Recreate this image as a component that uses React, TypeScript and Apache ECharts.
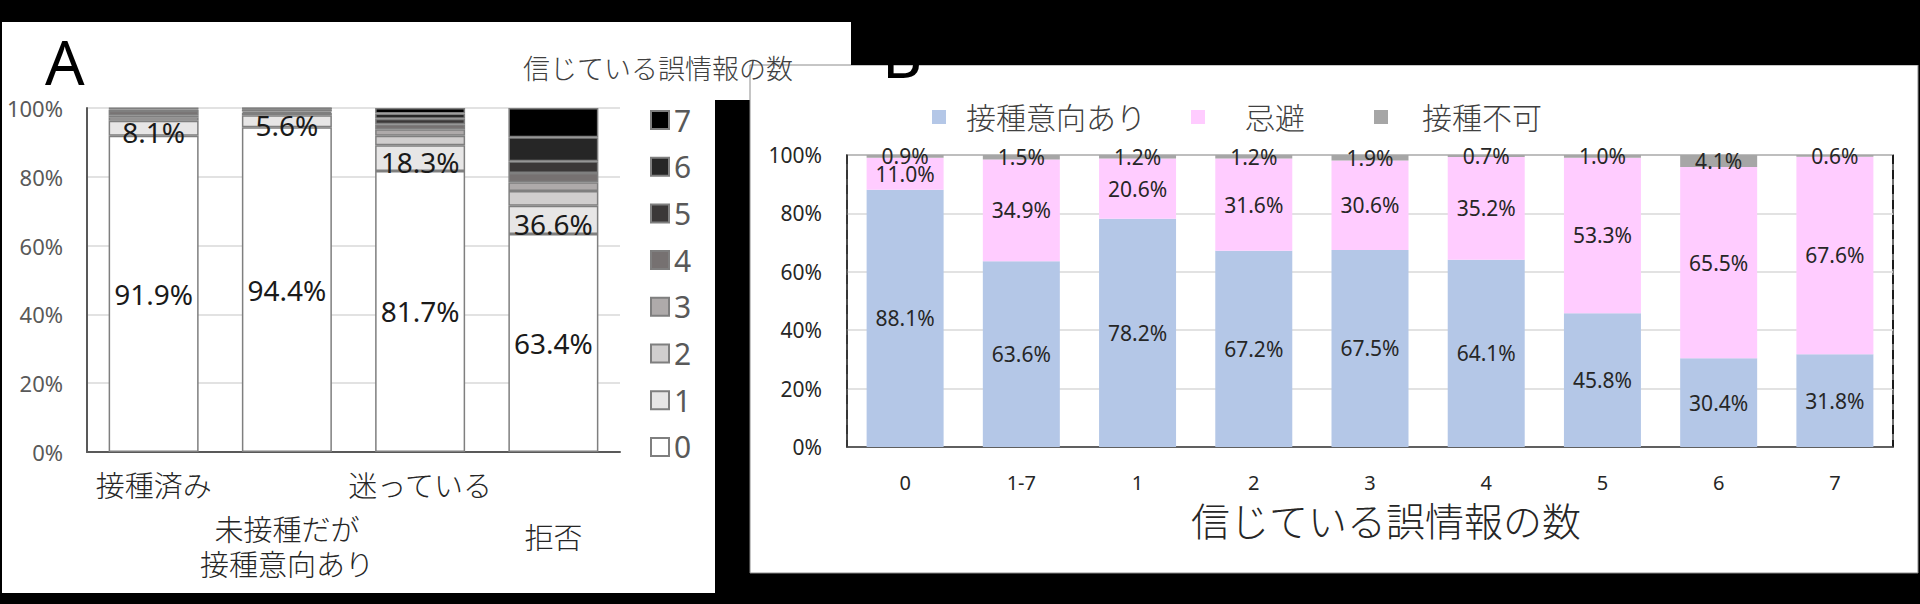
import React, { useEffect, useRef } from "react";
import * as echarts from "echarts";

// ---------- Panel A data ----------
const catsA = ["接種済み", "未接種だが\n接種意向あり", "迷っている", "拒否"];
const levelNames = ["0", "1", "2", "3", "4", "5", "6", "7"];
const belief0 = [91.9, 94.4, 81.7, 63.4];
const belief1 = [4.4, 3.5, 7.5, 8.2];
const belief2 = [1.0, 0.7, 2.7, 4.3];
const belief3 = [0.6, 0.4, 1.9, 2.5];
const belief4 = [1.2, 0.6, 1.5, 2.7];
const belief5 = [0.5, 0.2, 1.6, 3.4];
const belief6 = [0.3, 0.1, 1.5, 7.0];
const belief7 = [0.1, 0.1, 1.6, 8.5];
const levelColors = ["#ffffff", "#e7e6e6", "#d0cece", "#aeaaaa", "#767171", "#3b3838", "#262626", "#000000"];
const yTicksA = [0, 20, 40, 60, 80, 100];

// ---------- Panel B data ----------
const catsB = ["0", "1-7", "1", "2", "3", "4", "5", "6", "7"];
const willing = [88.1, 63.6, 78.2, 67.2, 67.5, 64.1, 45.8, 30.4, 31.8];
const hesitant = [11.0, 34.9, 20.6, 31.6, 30.6, 35.2, 53.3, 65.5, 67.6];
const unable = [0.9, 1.5, 1.2, 1.2, 1.9, 0.7, 1.0, 4.1, 0.6];
const seriesNamesB = ["接種意向あり", "忌避", "接種不可"];
const colorsB = ["#b4c7e7", "#ffccff", "#a6a6a6"];

const FONT = "'Noto Sans', 'Noto Sans CJK JP', sans-serif";
const CJK_WEIGHT = 300;

export default function App() {
  const ref = useRef<HTMLDivElement>(null);
  useEffect(() => {
    if (!ref.current) return;
    const chart = echarts.init(ref.current, undefined, { renderer: "svg" });
    const levels = [belief0, belief1, belief2, belief3, belief4, belief5, belief6, belief7];

    const seriesA = levels.map((arr, k) => ({
      name: levelNames[k],
      type: "bar",
      stack: "a",
      xAxisIndex: 0,
      yAxisIndex: 0,
      barWidth: 90,
      data: arr,
      itemStyle: { color: levelColors[k], borderColor: "#7f7f7f", borderWidth: 1.5 },
      label:
        k === 0
          ? { show: true, position: "inside", fontSize: 28, color: "#1a1a1a", fontFamily: FONT, formatter: (p: any) => p.value.toFixed(1) + "%" }
          : k === 1
          ? { show: true, position: "inside", offset: [0, 4], fontSize: 28, color: "#1a1a1a", fontFamily: FONT, formatter: (p: any) => (100 - belief0[p.dataIndex]).toFixed(1) + "%" }
          : { show: false },
    }));

    const dataB = [willing, hesitant, unable];
    const seriesB = dataB.map((arr, k) => ({
      name: seriesNamesB[k],
      type: "bar",
      stack: "b",
      xAxisIndex: 1,
      yAxisIndex: 1,
      barWidth: 77,
      data: arr,
      itemStyle: { color: colorsB[k] },
      label: { show: true, position: "inside", fontSize: 21, color: "#262626", fontFamily: FONT, formatter: (p: any) => p.value.toFixed(1) + "%" },
    }));

    const legendB = seriesNamesB.map((n, k) => ({
      data: [n],
      left: [927, 1186, 1369][k],
      top: 97,
      itemWidth: 14,
      itemHeight: 14,
      icon: "rect",
      selectedMode: false,
      textStyle: { fontSize: 30, lineHeight: 30, fontWeight: CJK_WEIGHT, color: "#404040", fontFamily: FONT, padding: [0, 0, 0, [15, 35, 29][k]] },
    }));

    const option: any = {
      animation: false,
      backgroundColor: "#000000",
      textStyle: { fontFamily: FONT },
      graphic: [
        { type: "rect", z: -100, shape: { x: 2, y: 22, width: 713, height: 571 }, style: { fill: "#ffffff" } },
        { type: "rect", z: -100, shape: { x: 2, y: 22, width: 849, height: 78 }, style: { fill: "#ffffff" } },
        { type: "rect", z: -100, shape: { x: 750, y: 65, width: 1168, height: 508 }, style: { fill: "#ffffff", stroke: "#8c8c8c", lineWidth: 1 } },
        { type: "text", z: 50, x: 45, y: 61, style: { text: "A", fontSize: 62, fontFamily: FONT, fill: "#000", verticalAlign: "middle" } },
        { type: "text", z: 50, x: 882, y: 54, style: { text: "B", fontSize: 62, fontFamily: FONT, fill: "#000", verticalAlign: "middle" } },
        { type: "rect", z: 100, shape: { x: 851, y: 0, width: 1069, height: 65 }, style: { fill: "#000000" } },
        { type: "rect", z: 100, shape: { x: 0, y: 0, width: 1920, height: 22 }, style: { fill: "#000000" } },
        { type: "text", z: 50, x: 523, y: 68, style: { text: "信じている誤情報の数", fontSize: 27, fontWeight: CJK_WEIGHT, fontFamily: FONT, fill: "#404040", verticalAlign: "middle" } },
        { type: "text", z: 50, x: 1386, y: 520, style: { text: "信じている誤情報の数", fontSize: 39, fontWeight: CJK_WEIGHT, fontFamily: FONT, fill: "#262626", align: "center", verticalAlign: "middle" } },
      ],
      legend: [
        {
          data: [...levelNames].reverse(),
          orient: "vertical",
          left: 645,
          top: 100,
          itemWidth: 18,
          itemHeight: 18,
          itemGap: 16.7,
          icon: "rect",
          selectedMode: false,
          textStyle: { fontSize: 30, lineHeight: 30, color: "#595959", fontFamily: FONT },
        },
        ...legendB,
      ],
      grid: [
        { left: 87, right: 1300, top: 108, bottom: 152 },
        { left: 847, right: 27, top: 155, bottom: 157, show: true, borderColor: "#404040", borderWidth: 1.5, backgroundColor: "transparent" },
      ],
      xAxis: [
        {
          type: "category",
          gridIndex: 0,
          data: catsA,
          axisTick: { show: false },
          axisLine: { lineStyle: { color: "#595959", width: 2 } },
          axisLabel: {
            interval: 0,
            margin: 16,
            color: "#262626",
            fontFamily: FONT,
            fontSize: 29,
            formatter: (v: string, i: number) => {
              const lines = v.split("\n").map((l) => `{t|${l}}`).join("\n");
              if (i % 2 === 0) return lines;
              return (v.includes("\n") ? "{g| }\n" : "{h| }\n") + lines;
            },
            rich: {
              t: { fontSize: 29, lineHeight: 35, fontWeight: CJK_WEIGHT, color: "#262626", fontFamily: FONT },
              g: { fontSize: 10, lineHeight: 44 },
              h: { fontSize: 10, lineHeight: 52 },
            },
          },
        },
        {
          type: "category",
          gridIndex: 1,
          data: catsB,
          axisTick: { show: false },
          axisLine: { lineStyle: { color: "#404040", width: 1.5 } },
          axisLabel: { margin: 25, fontSize: 20, color: "#262626", fontFamily: FONT },
          splitLine: {
            show: true,
            interval: (index: number) => index === 2,
            lineStyle: { color: "#000000", type: [9, 6], width: 1.5 },
          },
        },
      ],
      yAxis: [
        {
          type: "value",
          gridIndex: 0,
          min: yTicksA[0],
          max: yTicksA[yTicksA.length - 1],
          interval: 20,
          axisLine: { show: true, lineStyle: { color: "#595959", width: 2 } },
          axisLabel: { formatter: "{value}%", fontSize: 22, color: "#595959", margin: 24, fontFamily: FONT },
          splitLine: { lineStyle: { color: "#d9d9d9", width: 1.5 } },
        },
        {
          type: "value",
          gridIndex: 1,
          min: 0,
          max: 100,
          interval: 20,
          axisLine: { show: true, lineStyle: { color: "#404040", width: 1.5 } },
          axisLabel: { formatter: "{value}%", fontSize: 21, color: "#262626", margin: 25, fontFamily: FONT },
          splitLine: { lineStyle: { color: "#d9d9d9", width: 1.5 } },
        },
      ],
      series: [...seriesA, ...seriesB],
    };
    chart.setOption(option);
    return () => chart.dispose();
  }, []);
  return <div ref={ref} style={{ position: "fixed", left: 0, top: 0, width: 1920, height: 604 }} />;
}
